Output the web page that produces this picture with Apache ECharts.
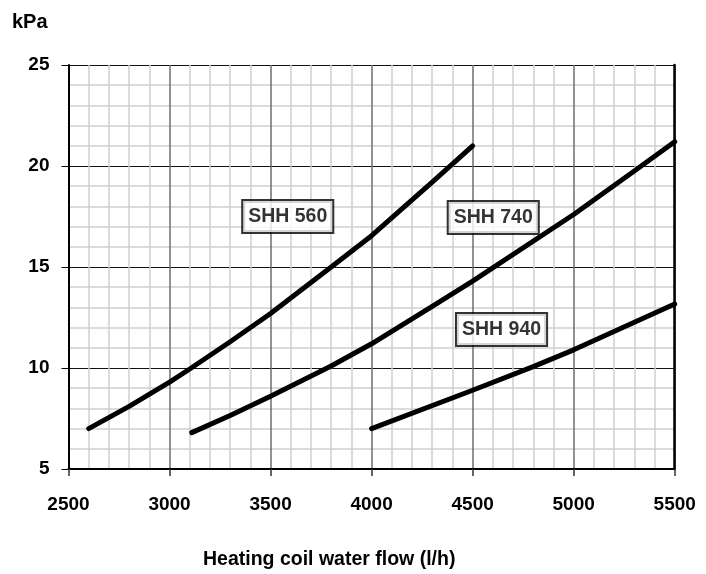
<!DOCTYPE html>
<html><head><meta charset="utf-8">
<script src="https://cdn.jsdelivr.net/npm/echarts@6/dist/echarts.min.js"></script>
<style>html,body{margin:0;padding:0;background:#fff}#c{width:706px;height:574px}</style>
</head><body><div id="c"></div>
<script>
const xTicks = [2500, 3000, 3500, 4000, 4500, 5000, 5500];
const yTicks = [5, 10, 15, 20, 25];
const shh560 = [[2600,7.0],[2800,8.1],[3000,9.3],[3100,9.95],[3300,11.3],[3500,12.7],[3800,15.0],[4000,16.55],[4300,19.2],[4500,21.0]];
const shh740 = [[3110,6.8],[3300,7.65],[3500,8.6],[3800,10.1],[4000,11.2],[4300,13.05],[4500,14.3],[5000,17.6],[5300,19.75],[5500,21.2]];
const shh940 = [[4000,7.0],[4500,8.9],[4800,10.07],[5000,10.9],[5500,13.17]];
const seriesNames = ['SHH 560', 'SHH 740', 'SHH 940'];
const labelPositions = [[3585,17.5],[4602,17.45],[4643,11.9]];
const yUnit = 'kPa';
const xName = 'Heating coil water flow (l/h)';

const FONT = "'Liberation Sans',Arial,sans-serif";
const chart = echarts.init(document.getElementById('c'), null, {renderer: 'canvas'});
const lineSeries = [shh560, shh740, shh940].map((d, i) => ({
  name: seriesNames[i], type: 'line', data: d, showSymbol: false, smooth: false, z: 5,
  lineStyle: {color: '#000', width: 5, cap: 'round', join: 'round'}
}));
chart.setOption({
  animation: false,
  backgroundColor: '#fff',
  grid: {left: 68.5, right: 31.3, top: 65, bottom: 105, containLabel: false},
  xAxis: {
    type: 'value', min: xTicks[0], max: xTicks[xTicks.length - 1], interval: 500,
    axisLine: {show: true, lineStyle: {color: '#000', width: 2}},
    axisTick: {show: true, length: 7, lineStyle: {color: '#333', width: 1.5}},
    axisLabel: {margin: 26, fontSize: 19, fontWeight: 'bold', color: '#000', fontFamily: FONT,
      formatter: v => String(v)},
    splitLine: {show: true, lineStyle: {color: '#6e6e6e', width: 1.5}},
    minorTick: {show: false, splitNumber: 5},
    minorSplitLine: {show: true, lineStyle: {color: '#cfcfcf', width: 1.5}}
  },
  yAxis: [{
    type: 'value', min: yTicks[0], max: yTicks[yTicks.length - 1], interval: 5,
    axisLine: {show: true, lineStyle: {color: '#000', width: 2}},
    axisTick: {show: true, length: 7, lineStyle: {color: '#000', width: 1}},
    axisLabel: {margin: 19, fontSize: 19, fontWeight: 'bold', color: '#000', fontFamily: FONT,
      formatter: v => String(v)},
    splitLine: {show: true, lineStyle: {color: '#111', width: 1}},
    minorTick: {show: false, splitNumber: 5},
    minorSplitLine: {show: true, lineStyle: {color: '#cfcfcf', width: 1.5}}
  }, {
    type: 'value', position: 'right', min: yTicks[0], max: yTicks[yTicks.length - 1],
    axisLine: {show: true, lineStyle: {color: '#000', width: 2.5}},
    axisTick: {show: false}, axisLabel: {show: false}, splitLine: {show: false}
  }],
  series: lineSeries.concat([{
    type: 'scatter', symbolSize: 0, z: 10,
    data: labelPositions.map((p, i) => ({name: seriesNames[i], value: p})),
    label: {
      show: true, position: 'inside', formatter: '{b}',
      fontSize: 19.5, fontWeight: 'bold', color: '#000', fontFamily: FONT,
      backgroundColor: '#fff', borderColor: '#000', borderWidth: 2,
      padding: [6, 5, 5, 5]
    }
  }]),
  graphic: [
    {type: 'text', left: 12, top: 12, style: {text: yUnit, font: "bold 20px " + FONT, fill: '#000'}},
    {type: 'text', left: 203, top: 550, style: {text: xName, font: "bold 19.5px " + FONT, fill: '#000'}}
  ]
});
</script></body></html>
